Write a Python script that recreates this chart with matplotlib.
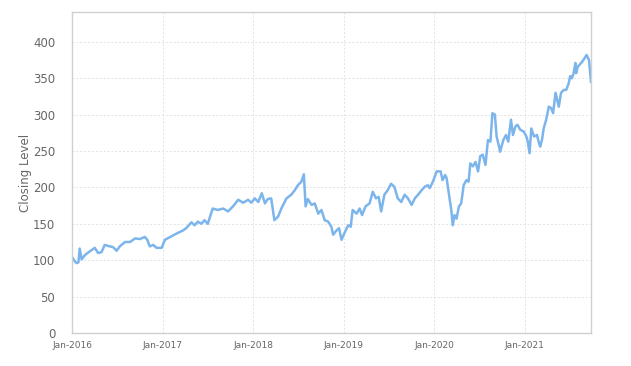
import matplotlib
matplotlib.use("Agg")
import matplotlib.pyplot as plt
import matplotlib.dates as mdates
import pandas as pd

dates = [
    "2016-01-04", "2016-01-13", "2016-01-20", "2016-01-27", "2016-02-01", "2016-02-09",
    "2016-02-22", "2016-03-12", "2016-04-02", "2016-04-15", "2016-04-29", "2016-05-12",
    "2016-06-02", "2016-06-15", "2016-06-29", "2016-07-12", "2016-08-02", "2016-08-22",
    "2016-09-12", "2016-10-01", "2016-10-21", "2016-10-31", "2016-11-10", "2016-11-24",
    "2016-12-07", "2016-12-28", "2017-01-10", "2017-02-01", "2017-02-28", "2017-03-25",
    "2017-04-06", "2017-04-27", "2017-05-10", "2017-05-23", "2017-06-06", "2017-06-19",
    "2017-07-02", "2017-07-22", "2017-08-12", "2017-09-02", "2017-09-22", "2017-10-12",
    "2017-11-02", "2017-11-22", "2017-12-12", "2017-12-25", "2018-01-08", "2018-01-22",
    "2018-02-05", "2018-02-18", "2018-03-01", "2018-03-15", "2018-03-28", "2018-04-12",
    "2018-04-25", "2018-05-16", "2018-06-04", "2018-06-18", "2018-07-01", "2018-07-15",
    "2018-07-25", "2018-08-01", "2018-08-10", "2018-08-25", "2018-09-07", "2018-09-21",
    "2018-10-04", "2018-10-17", "2018-10-31", "2018-11-13", "2018-11-20", "2018-12-04",
    "2018-12-14", "2018-12-24", "2019-01-07", "2019-01-20", "2019-01-30", "2019-02-07",
    "2019-02-23", "2019-03-07", "2019-03-17", "2019-03-31", "2019-04-16", "2019-04-29",
    "2019-05-12", "2019-05-23", "2019-06-02", "2019-06-15", "2019-06-28", "2019-07-12",
    "2019-07-25", "2019-08-08", "2019-08-22", "2019-09-05", "2019-09-18", "2019-10-03",
    "2019-10-16", "2019-10-29", "2019-11-12", "2019-11-25", "2019-12-08", "2019-12-15",
    "2019-12-28", "2020-01-12", "2020-01-28", "2020-02-05", "2020-02-15", "2020-02-21",
    "2020-03-01", "2020-03-11", "2020-03-17", "2020-03-24", "2020-04-01", "2020-04-11",
    "2020-04-20", "2020-04-30", "2020-05-11", "2020-05-20", "2020-05-27", "2020-06-06",
    "2020-06-17", "2020-06-27", "2020-07-06", "2020-07-16", "2020-07-27", "2020-08-06",
    "2020-08-16", "2020-08-24", "2020-09-03", "2020-09-10", "2020-09-20", "2020-09-24",
    "2020-10-07", "2020-10-18", "2020-10-27", "2020-11-07", "2020-11-15", "2020-11-25",
    "2020-12-03", "2020-12-15", "2020-12-28", "2021-01-08", "2021-01-14", "2021-01-21",
    "2021-01-28", "2021-02-08", "2021-02-20", "2021-02-28", "2021-03-05", "2021-03-12",
    "2021-03-19", "2021-03-29", "2021-04-09", "2021-04-18", "2021-04-26", "2021-05-06",
    "2021-05-12", "2021-05-19", "2021-05-28", "2021-06-08", "2021-06-18", "2021-06-28",
    "2021-07-04", "2021-07-11", "2021-07-18", "2021-07-25", "2021-07-28", "2021-08-04",
    "2021-08-12", "2021-08-22", "2021-09-01", "2021-09-08", "2021-09-18", "2021-09-26",
]

closing = [
    103, 98, 96, 97, 116, 101,
    107, 112, 117, 110, 111, 121,
    119, 118, 113, 119, 125, 125,
    130, 129, 132, 128, 119, 121,
    117, 117, 128, 132, 137, 141,
    144, 152, 148, 153, 150, 155,
    150, 171, 169, 171, 167, 174,
    183, 179, 183, 179, 185, 180,
    192, 178, 184, 185, 155, 160,
    171, 185, 190, 196, 203, 208,
    218, 174, 184, 176, 178, 164,
    169, 155, 153, 146, 135, 141,
    144, 128, 139, 148, 146, 169,
    164, 171, 162, 174, 178, 194,
    185, 187, 167, 190, 196, 205,
    201, 185, 180, 190, 185, 176,
    185, 190, 196, 201, 203, 199,
    208, 222, 222, 210, 217, 213,
    192, 169, 148, 162, 157, 174,
    178, 203, 210, 208, 233, 229,
    235, 222, 243, 245, 231, 265,
    263, 302, 300, 270, 256, 249,
    265, 272, 263, 293, 272, 284,
    286, 279, 277, 270, 263, 247,
    281, 270, 272, 261, 256, 265,
    281, 293, 311, 309, 302, 330,
    321, 311, 330, 334, 334, 343,
    353, 350, 357, 371, 357, 366,
    369, 373, 378, 382, 375, 345,
]

year_ticks = ["2016-01-01", "2017-01-01", "2018-01-01", "2019-01-01", "2020-01-01", "2021-01-01"]
y_ticks = [0, 50, 100, 150, 200, 250, 300, 350, 400]

df = pd.DataFrame({"Date": pd.to_datetime(dates), "Close": closing})

fig = plt.figure(figsize=(6.31, 3.66), dpi=100)
ax = fig.add_axes([0.1141, 0.0902, 0.8225, 0.877])

ax.plot(df["Date"], df["Close"], color="#7cb5ec", linewidth=1.8)

ax.set_xlim(pd.Timestamp("2016-01-01"), pd.Timestamp("2021-09-26"))
ax.set_ylim(0, 441)
ax.set_yticks(y_ticks)
ax.set_xticks(pd.to_datetime(year_ticks))
ax.xaxis.set_major_formatter(mdates.DateFormatter("%b-%Y"))

ax.grid(True, linestyle=(0, (2, 2)), color="#e3e3e3", linewidth=0.7)
ax.set_axisbelow(True)
for s in ax.spines.values():
    s.set_color("#d0d0d0")
    s.set_linewidth(1)

ax.tick_params(axis="y", length=0, pad=12, labelsize=8.5, labelcolor="#666666")
ax.tick_params(axis="x", length=0, pad=6, labelsize=6.5, labelcolor="#666666")
ax.set_ylabel("Closing Level", fontsize=8.5, color="#666666", labelpad=1)

fig.savefig("out.png", dpi=100)
